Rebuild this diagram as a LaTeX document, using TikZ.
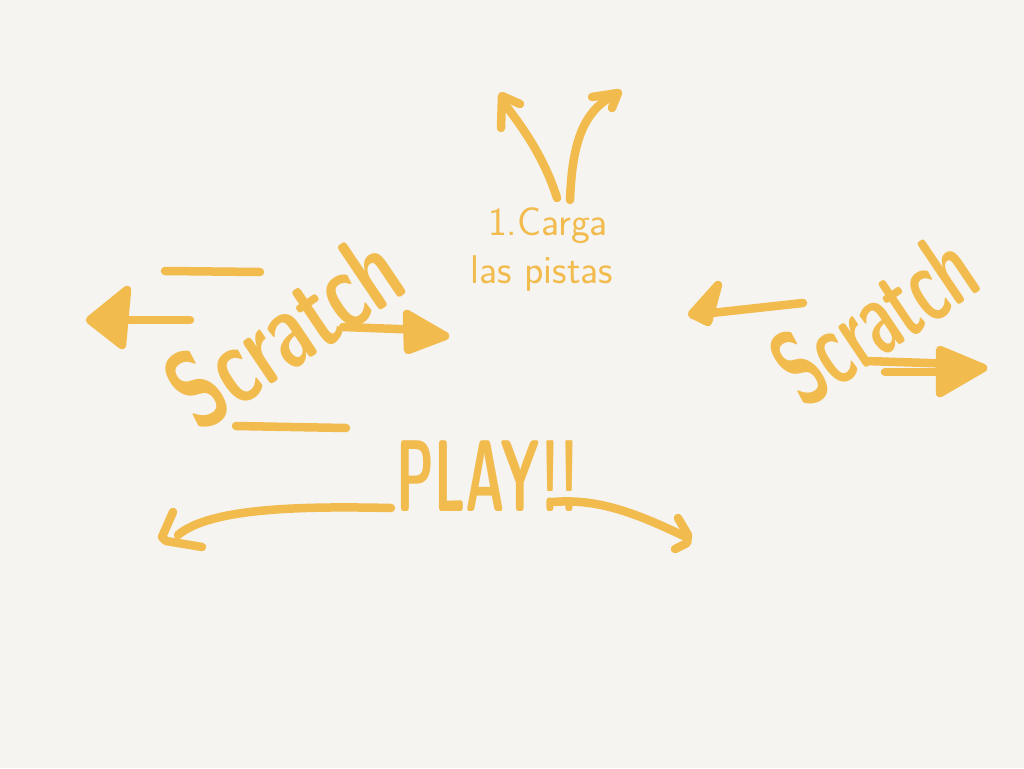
\documentclass[tikz,border=0pt]{standalone}
\usepackage{graphicx}
\definecolor{pen}{RGB}{242,187,77}
\definecolor{paper}{RGB}{245,244,241}
\begin{document}
\begin{tikzpicture}[x=1pt,y=-1pt,
  stroke/.style={draw=pen,line width=8.5pt,line cap=round,line join=round},
  head/.style={stroke,fill=pen},
  big/.style={text=pen,font=\sffamily\bfseries\fontsize{74}{74}\selectfont,inner sep=0pt},
  play/.style={text=pen,font=\sffamily\bfseries\fontsize{60}{60}\selectfont,inner sep=0pt},
  small/.style={text=pen,font=\sffamily\fontsize{40}{40}\selectfont,inner sep=0pt}]
\fill[paper] (0,0) rectangle (1024,768);
\useasboundingbox (0,0) rectangle (1024,768);

% texts
\node[small] (carga) at (548,226) {1.Carga};
\node[small] (pistas) at (542,274) {las pistas};
\node[big,rotate=34] (scratchL) at (284,330) {\scalebox{1}[1.5]{Scratch}};
\node[big,rotate=34] (scratchR) at (874,318) {\scalebox{0.85}[1.45]{Scratch}};
\node[play] (playtext) at (488,476) {\scalebox{0.9}[1.7]{PLAY!!}};

% coordinates
\coordinate (tl0) at (557,198); \coordinate (tl1) at (503,102);
\coordinate (tr0) at (570,200); \coordinate (tr1) at (617,94);
\coordinate (ll0) at (190,320); \coordinate (ll1) at (100,320);
\coordinate (lr0) at (343,327); \coordinate (lr1) at (425,330);
\coordinate (rl0) at (803,303); \coordinate (rl1) at (693,315);
\coordinate (rr0) at (866,361); \coordinate (rr1) at (958,364);
\coordinate (bl0) at (391,508); \coordinate (bl1) at (178,535);
\coordinate (br0) at (553,502); \coordinate (br1) at (688,538);

% top arrows
\draw[stroke] (tl0) .. controls (545,160) and (525,130) .. (tl1);
\draw[stroke] (501,128) -- (502,96) -- (520,104);
\draw[stroke] (tr0) .. controls (572,150) and (580,110) .. (tr1);
\draw[stroke] (592,97) -- (618,93) -- (612,108);

% left scratch
\draw[stroke] (165,271) -- (260,272);
\draw[stroke] (236,426) -- (346,428);
\draw[stroke] (ll0) -- (ll1);
\draw[head] (127,290) -- (90,320) -- (122,345) -- cycle;
\draw[stroke] (lr0) -- (lr1);
\draw[head] (407,314) -- (445,336) -- (408,350) -- cycle;

% right scratch
\draw[stroke] (rl0) -- (rl1);
\draw[head] (718,285) -- (692,314) -- (708,322) -- cycle;
\draw[stroke] (rr0) -- (rr1);
\draw[stroke] (885,372) -- (958,372);
\draw[head] (940,350) -- (983,368) -- (940,393) -- cycle;

% bottom arrows
\draw[stroke] (bl0) .. controls (300,506) and (210,508) .. (bl1);
\draw[stroke] (173,512) -- (162,537) -- (166,541) -- (202,547);
\draw[stroke] (br0) .. controls (600,498) and (640,515) .. (br1);
\draw[stroke] (678,518) -- (688,535) -- (687,543) -- (675,549);
\end{tikzpicture}
\end{document}
